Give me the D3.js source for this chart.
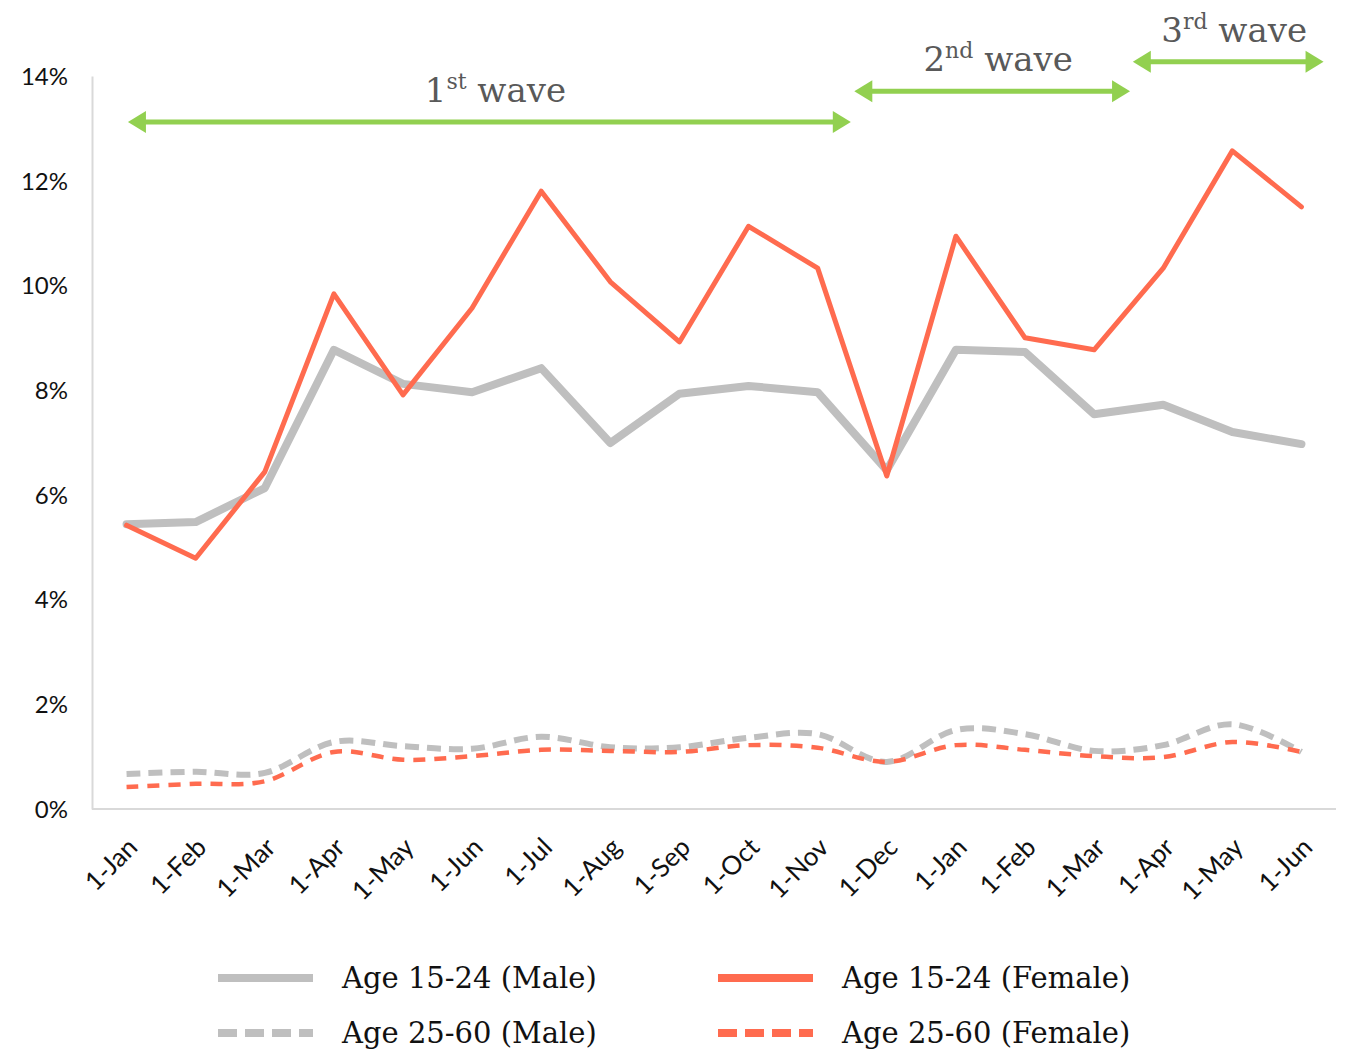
<!DOCTYPE html>
<html>
<head>
<meta charset="utf-8">
<script src="https://cdn.jsdelivr.net/npm/d3@7"></script>
<style>
  body { margin: 0; background: #fff; }
  .tick text { font-family: Lato, "Open Sans", sans-serif; fill: #111; }
  .wave { font-family: "DejaVu Serif", "Liberation Serif", serif; fill: #595959; }
  .legend text { font-family: "DejaVu Serif", "Liberation Serif", serif; fill: #111; }
</style>
</head>
<body>
<div id="chart"></div>
<script>
var width = 1345
var height = 1051

var months = ['1-Jan', '1-Feb', '1-Mar', '1-Apr', '1-May', '1-Jun', '1-Jul', '1-Aug', '1-Sep',
  '1-Oct', '1-Nov', '1-Dec', '1-Jan', '1-Feb', '1-Mar', '1-Apr', '1-May', '1-Jun']

var male1524 = [5.44, 5.48, 6.13, 8.77, 8.12, 7.96, 8.42, 6.99, 7.93, 8.08, 7.96, 6.47, 8.77, 8.73, 7.54, 7.72, 7.20, 6.97]
var female1524 = [5.42, 4.79, 6.44, 9.84, 7.91, 9.57, 11.80, 10.07, 8.92, 11.13, 10.33, 6.36, 10.94, 9.00, 8.77, 10.33, 12.57, 11.50]
var male2560 = [0.67, 0.71, 0.69, 1.28, 1.20, 1.15, 1.38, 1.18, 1.18, 1.36, 1.43, 0.90, 1.51, 1.43, 1.11, 1.22, 1.62, 1.09]
var female2560 = [0.42, 0.48, 0.53, 1.09, 0.94, 1.01, 1.13, 1.11, 1.09, 1.22, 1.17, 0.90, 1.22, 1.13, 1.01, 0.99, 1.28, 1.09]

var yTicks = [0, 2, 4, 6, 8, 10, 12, 14]

// wave annotations: start / end in category index units, level in %
var waveNames = ['1', '2', '3']
var waveSup = ['st', 'nd', 'rd']
var waveStart = [0.02, 10.53, 14.56]
var waveEnd = [10.48, 14.52, 17.32]
var waveLevel = [13.12, 13.71, 14.27]

var margin = { left: 92, right: 9, top: 76, bottom: 242 }

var svg = d3.select('#chart').append('svg')
  .attr('width', width).attr('height', height)

var x = d3.scalePoint()
  .domain(d3.range(months.length))
  .range([margin.left, width - margin.right])
  .padding(0.5)

var xPos = d3.scaleLinear()
  .domain([0, months.length - 1])
  .range([x(0), x(months.length - 1)])

var y = d3.scaleLinear()
  .domain([0, 14])
  .range([height - margin.bottom, margin.top])

// axes
var yAxis = svg.append('g')
  .attr('transform', `translate(${margin.left},0)`)
  .call(d3.axisLeft(y).tickValues(yTicks).tickFormat(d => d + '%').tickSize(0).tickPadding(24))
yAxis.select('.domain').attr('stroke', '#d9d9d9').attr('stroke-width', 2)
yAxis.selectAll('.tick text').attr('font-size', 24).attr('dy', '0.35em')

var xAxis = svg.append('g')
  .attr('transform', `translate(0,${height - margin.bottom})`)
  .call(d3.axisBottom(x).tickFormat(i => months[i]).tickSize(0).tickPadding(0))
xAxis.select('.domain').attr('stroke', '#d9d9d9').attr('stroke-width', 2)
  .attr('d', `M${margin.left},0H${width - margin.right}`)
xAxis.selectAll('.tick text')
  .attr('font-size', 26)
  .attr('text-anchor', 'end')
  .attr('dy', 0)
  .attr('transform', 'translate(12,40) rotate(-45)')

// series
var series = [
  { name: 'Age 15-24 (Male)', values: male1524, color: '#bfbfbf', width: 8, dash: null, smooth: false },
  { name: 'Age 15-24 (Female)', values: female1524, color: '#ff6b4f', width: 5, dash: null, smooth: false },
  { name: 'Age 25-60 (Male)', values: male2560, color: '#bfbfbf', width: 6, dash: '14,8', smooth: true },
  { name: 'Age 25-60 (Female)', values: female2560, color: '#ff6b4f', width: 4.5, dash: '12,9', smooth: true }
]

var drawOrder = [2, 3, 0, 1]
drawOrder.forEach(k => {
  var s = series[k]
  var line = d3.line()
    .x((d, i) => x(i))
    .y(d => y(d))
    .curve(s.smooth ? d3.curveCatmullRom.alpha(0) : d3.curveLinear)
  svg.append('path')
    .datum(s.values)
    .attr('d', line)
    .attr('fill', 'none')
    .attr('stroke', s.color)
    .attr('stroke-width', s.width)
    .attr('stroke-linejoin', 'round')
    .attr('stroke-linecap', s.dash ? 'butt' : 'round')
    .attr('stroke-dasharray', s.dash)
})

// wave arrows
var green = '#92d050'
waveNames.forEach((n, i) => {
  var x0 = xPos(waveStart[i]), x1 = xPos(waveEnd[i]), yy = y(waveLevel[i])
  var g = svg.append('g')
  g.append('line')
    .attr('x1', x0 + 12).attr('x2', x1 - 12)
    .attr('y1', yy).attr('y2', yy)
    .attr('stroke', green).attr('stroke-width', 5)
  g.append('path')
    .attr('d', `M${x0},${yy}L${x0 + 18},${yy - 11}L${x0 + 18},${yy + 11}Z`)
    .attr('fill', green)
  g.append('path')
    .attr('d', `M${x1},${yy}L${x1 - 18},${yy - 11}L${x1 - 18},${yy + 11}Z`)
    .attr('fill', green)

  var t = svg.append('text')
    .attr('class', 'wave')
    .attr('x', (x0 + x1) / 2 + 6)
    .attr('y', yy - 20)
    .attr('text-anchor', 'middle')
    .attr('font-size', 34)
  t.append('tspan').text(n)
  t.append('tspan').attr('font-size', 22).attr('dy', -13).text(waveSup[i])
  t.append('tspan').attr('dy', 13).text(' wave')
})

// legend
var legendX = [218, 718]
var legendY = [978, 1033]
var legend = svg.append('g').attr('class', 'legend')
series.forEach((s, i) => {
  var lx = legendX[i % 2], ly = legendY[Math.floor(i / 2)]
  legend.append('line')
    .attr('x1', lx).attr('x2', lx + 95)
    .attr('y1', ly).attr('y2', ly)
    .attr('stroke', s.color)
    .attr('stroke-width', 8)
    .attr('stroke-dasharray', s.dash ? '19,8' : null)
  legend.append('text')
    .attr('x', lx + 124)
    .attr('y', ly + 10)
    .attr('font-size', 29)
    .text(s.name)
})
</script>
</body>
</html>
